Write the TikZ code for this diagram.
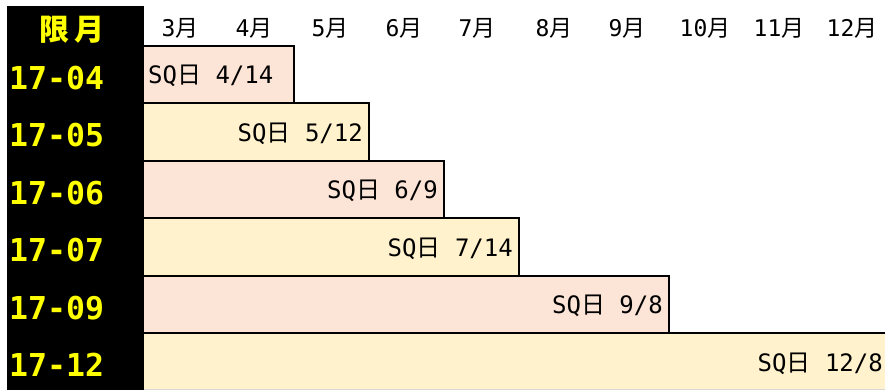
\documentclass[tikz,border=0pt]{standalone}
\usepackage{fontspec}
\newfontfamily\monofnt{DejaVu Sans Mono}
\newfontfamily\jpfnt{Noto Sans CJK JP}
\definecolor{pinkbar}{HTML}{FCE4D6}
\definecolor{yellowbar}{HTML}{FFF2CC}
\definecolor{labelyellow}{HTML}{FFFF00}
\newcommand{\sqlabel}[1]{{\monofnt SQ}{\jpfnt 日}{\monofnt\ #1}}
\newcommand{\monthlabel}[1]{{\monofnt #1}{\jpfnt 月}}
\tikzset{
  barbox/.style={inner sep=0pt, outer sep=0pt, draw=none, anchor=north west},
  baredge/.style={draw=black, line width=2pt},
  barlabel/.style={inner sep=0pt, font=\fontsize{24}{24}\selectfont},
  rowlabel/.style={inner sep=0pt, anchor=base west, text=labelyellow, font=\monofnt\bfseries\fontsize{31.5}{31.5}\selectfont},
  monthtext/.style={inner sep=0pt, anchor=base, font=\fontsize{23}{23}\selectfont}
}
\begin{document}
\begin{tikzpicture}[x=1pt,y=-1pt]
\useasboundingbox (0,0) rectangle (885,390);
\clip (0,0) rectangle (885,390);
\fill[white] (0,0) rectangle (885,390);
% black column
\node[fill=black, inner sep=0pt, outer sep=0pt, minimum width=137pt, minimum height=384pt, anchor=north west] (col) at (7,6) {};
\node[anchor=base, inner sep=0pt, text=labelyellow, font=\jpfnt\bfseries\fontsize{30}{30}\selectfont] (hdr) at (72,41) {限\hspace{5pt}月};
% months
\foreach \x/\m [count=\k] in {180/3,254/4,330/5,404/6,477/7,554/8,627/9,705/10,779/11,852/12}
  \node[monthtext] (m\k) at (\x,36.5) {\monthlabel{\m}};
% bars
\foreach \i/\right/\col/\lab in {1/294/pinkbar/17-04, 2/369/yellowbar/17-05, 3/444/pinkbar/17-06, 4/519/yellowbar/17-07, 5/669/pinkbar/17-09, 6/894/yellowbar/17-12}{
  \pgfmathsetmacro\bartop{46+57.4*(\i-1)}
  \pgfmathsetmacro\barw{\right-144}
  \node[barbox, fill=\col, minimum width=\barw pt, minimum height=58pt] (bar\i) at (144,\bartop) {};
  \node[rowlabel] (row\i) at (9,\bartop+43.5) {\lab};
}
\foreach \i in {1,...,6}
  \draw[baredge] (bar\i.south east) -- (bar\i.north east) -- (bar\i.north west);
\draw[black!15, line width=1pt] (144,389) -- (885,389);
% bar labels
\node[barlabel, anchor=base west] (t1) at (148,84) {\sqlabel{4/14}};
\node[barlabel, anchor=base east] (t2) at (363,141.4) {\sqlabel{5/12}};
\node[barlabel, anchor=base east] (t3) at (438,198.8) {\sqlabel{6/9}};
\node[barlabel, anchor=base east] (t4) at (513,256.2) {\sqlabel{7/14}};
\node[barlabel, anchor=base east] (t5) at (663,313.6) {\sqlabel{9/8}};
\node[barlabel, anchor=base east] (t6) at (883,371) {\sqlabel{12/8}};
\end{tikzpicture}
\end{document}
